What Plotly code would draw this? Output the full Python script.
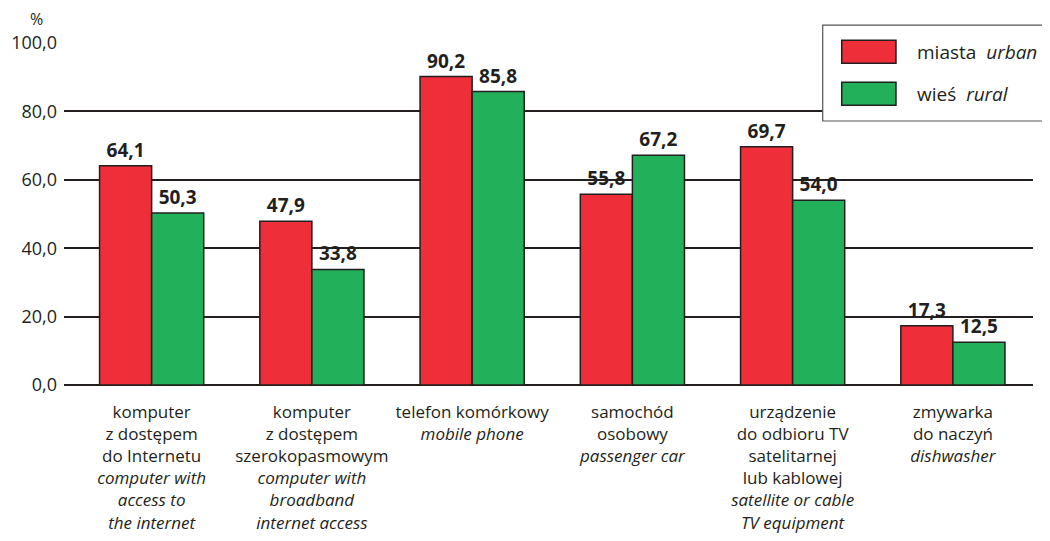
import plotly.graph_objects as go

# dane
categories_pl = [
    "komputer<br>z dostępem<br>do Internetu",
    "komputer<br>z dostępem<br>szerokopasmowym",
    "telefon komórkowy",
    "samochód<br>osobowy",
    "urządzenie<br>do odbioru TV<br>satelitarnej<br>lub kablowej",
    "zmywarka<br>do naczyń",
]
categories_en = [
    "computer with<br>access to<br>the internet",
    "computer with<br>broadband<br>internet access",
    "mobile phone",
    "passenger car",
    "satellite or cable<br>TV equipment",
    "dishwasher",
]
urban = [64.1, 47.9, 90.2, 55.8, 69.7, 17.3]
rural = [50.3, 33.8, 85.8, 67.2, 54.0, 12.5]
series_pl = ["miasta", "wieś"]
series_en = ["urban", "rural"]
y_ticks = [0, 20, 40, 60, 80, 100]

RED = "#EE2E38"
GREEN = "#22B05A"
INK = "#231F20"
FONT = "Open Sans"


def make_label(pl, en):
    en_lines = ["<i>" + s + "</i>" for s in en.split("<br>")]
    return pl + "<br>" + "<br>".join(en_lines)


labels = [make_label(p, e) for p, e in zip(categories_pl, categories_en)]
xs = list(range(len(labels)))

fig = go.Figure()
for vals, color, name in [(urban, RED, series_pl[0]), (rural, GREEN, series_pl[1])]:
    fig.add_trace(go.Bar(
        x=xs, y=vals, name=name, showlegend=False,
        marker=dict(color=color, line=dict(color=INK, width=1.5)),
        texttemplate="<b>%{y:.1f}</b>", textposition="outside",
        textfont=dict(family=FONT, size=19, color=INK),
        cliponaxis=False,
    ))

# strona ma 8px marginesu body, wiec figura jest mniejsza o 16px
fig.update_layout(
    width=1034, height=525,
    margin=dict(l=56, r=9, t=35, b=148),
    paper_bgcolor="white", plot_bgcolor="white",
    barmode="group", bargap=0.35, bargroupgap=0,
    separators=", ",
    font=dict(family=FONT, size=18, color=INK),
    xaxis=dict(
        range=[-0.547, 5.5], tickvals=xs, ticktext=labels,
        showgrid=False, zeroline=False, showline=False, ticks="",
        tickfont=dict(family=FONT, size=17, color=INK),
        tickangle=0, automargin=False,
        ticklabelstandoff=15,
    ),
    yaxis=dict(
        range=[0, 100], tickvals=y_ticks, tickformat=".1f",
        showgrid=True, gridcolor=INK, gridwidth=1.5,
        zeroline=True, zerolinecolor=INK, zerolinewidth=1.5,
        showline=False, ticks="", automargin=False,
        tickfont=dict(family=FONT, size=18, color=INK),
        ticklabelstandoff=6,
    ),
)

fig.add_annotation(x=-0.028, y=1.07, xref="paper", yref="paper", text="%",
                   xanchor="center", yanchor="middle", showarrow=False,
                   font=dict(family=FONT, size=16, color=INK))

# legenda w ramce
fig.add_shape(type="rect", xref="paper", yref="paper", layer="above",
              x0=0.783, x1=1.1, y0=0.772, y1=1.052,
              fillcolor="white", line=dict(color="#555555", width=1.2))
for i, (color, pl, en) in enumerate(zip([RED, GREEN], series_pl, series_en)):
    y0 = [0.941, 0.818][i]
    fig.add_shape(type="rect", xref="paper", yref="paper", layer="above",
                  x0=0.8026, x1=0.8586, y0=y0, y1=y0 + 0.067,
                  fillcolor=color, line=dict(color=INK, width=1.5))
    fig.add_annotation(x=0.878, y=y0 + 0.034, xref="paper", yref="paper",
                       xanchor="left", yanchor="middle", showarrow=False,
                       text=pl + "\u00a0\u00a0<i>" + en + "</i>",
                       font=dict(family=FONT, size=19, color=INK))

fig.write_html("out.html")
